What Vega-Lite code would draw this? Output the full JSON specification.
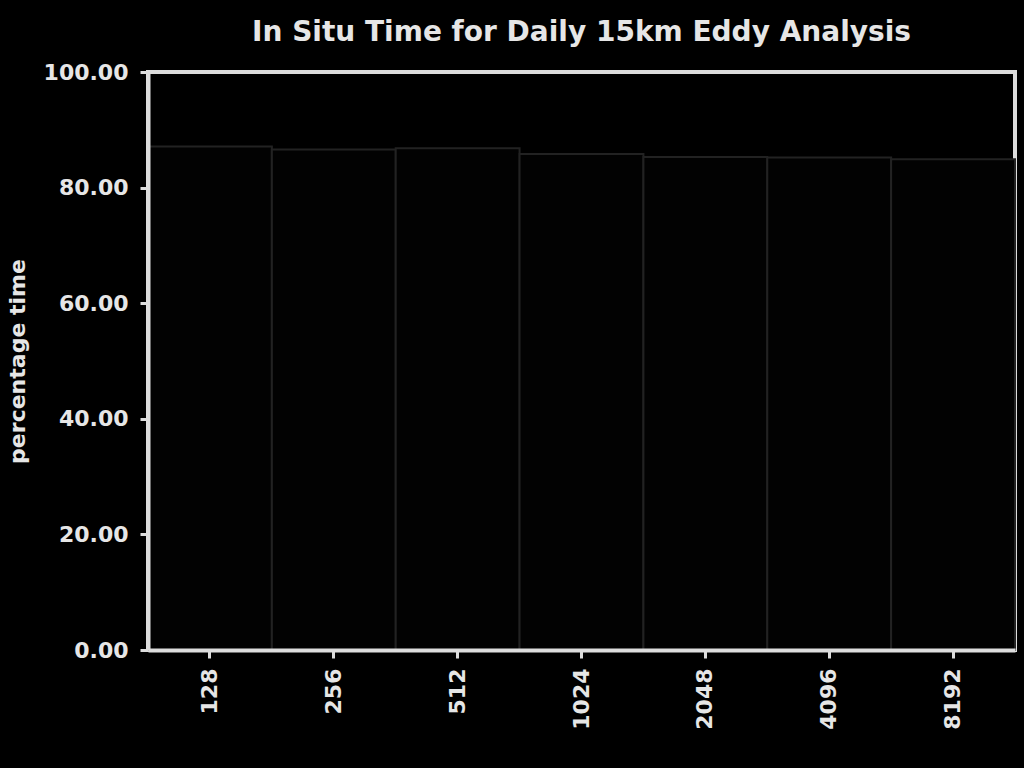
{
  "$schema": "https://vega.github.io/schema/vega-lite/v6.json",
  "autosize": {"type": "none"},
  "padding": {"left": 148, "top": 72, "right": 9, "bottom": 118},
  "width": 867,
  "height": 578,
  "background": "#000000",
  "title": {
    "text": "In Situ Time for Daily 15km Eddy Analysis",
    "font": "DejaVu Sans",
    "fontSize": 28,
    "fontWeight": "bold",
    "color": "#e6e6e6",
    "offset": 14,
    "anchor": "middle"
  },
  "data": {
    "values": [
      {"cores": "128", "pct": 87.1},
      {"cores": "256", "pct": 86.6},
      {"cores": "512", "pct": 86.8},
      {"cores": "1024", "pct": 85.8},
      {"cores": "2048", "pct": 85.3},
      {"cores": "4096", "pct": 85.2},
      {"cores": "8192", "pct": 84.9}
    ]
  },
  "mark": {"type": "bar", "fill": "#020202", "stroke": "#222222", "strokeWidth": 2},
  "encoding": {
    "x": {
      "field": "cores",
      "type": "ordinal",
      "sort": null,
      "scale": {"paddingInner": 0, "paddingOuter": 0},
      "axis": {
        "zindex": 1,
        "title": null,
        "labelAngle": -90,
        "labelFont": "DejaVu Sans",
        "labelFontSize": 22,
        "labelFontWeight": "bold",
        "labelColor": "#e6e6e6",
        "labelPadding": 10,
        "tickColor": "#dddddd",
        "tickWidth": 3,
        "tickSize": 8,
        "domainColor": "#dddddd",
        "domainWidth": 4
      }
    },
    "y": {
      "field": "pct",
      "type": "quantitative",
      "scale": {"domain": [0, 100], "nice": false},
      "axis": {
        "zindex": 1,
        "title": "percentage time",
        "titleFont": "DejaVu Sans",
        "titleFontSize": 22,
        "titleFontWeight": "bold",
        "titleColor": "#e6e6e6",
        "titlePadding": 14,
        "values": [0, 20, 40, 60, 80, 100],
        "format": ".2f",
        "labelFont": "DejaVu Sans",
        "labelFontSize": 22,
        "labelFontWeight": "bold",
        "labelColor": "#e6e6e6",
        "labelPadding": 12,
        "tickColor": "#dddddd",
        "tickWidth": 3,
        "tickSize": 8,
        "domainColor": "#dddddd",
        "domainWidth": 4,
        "grid": false
      }
    }
  },
  "config": {
    "view": {"stroke": "#dddddd", "strokeWidth": 4}
  }
}
